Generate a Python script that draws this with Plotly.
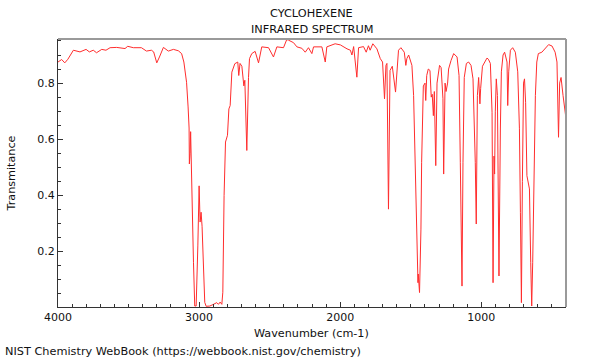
import plotly.graph_objects as go

wavenumber = [4000, 3974, 3952, 3930, 3891, 3844, 3801, 3778, 3750, 3727, 3690, 3660, 3631, 3584,
              3525, 3506, 3466, 3409, 3373, 3338, 3322, 3300, 3281, 3253, 3218, 3182, 3147, 3124,
              3108, 3089, 3078, 3071, 3069, 3064, 3060, 3055, 3048, 3040, 3031, 3021, 3009, 3000,
              2993, 2986, 2979, 2970, 2960, 2950, 2924, 2898, 2875, 2863, 2851, 2839, 2832, 2823,
              2813, 2799, 2789, 2780, 2768, 2747, 2726, 2719, 2710, 2697, 2683, 2676, 2662, 2650,
              2643, 2627, 2603, 2579, 2556, 2508, 2473, 2449, 2402, 2379, 2367, 2331, 2307, 2272,
              2248, 2225, 2201, 2189, 2130, 2106, 2095, 2036, 1999, 1952, 1928, 1917, 1905, 1882,
              1870, 1835, 1816, 1800, 1788, 1769, 1740, 1716, 1700, 1686, 1676, 1669, 1658, 1647,
              1631, 1608, 1599, 1587, 1570, 1546, 1535, 1528, 1515, 1492, 1480, 1470, 1456, 1449,
              1447, 1438, 1428, 1423, 1411, 1399, 1394, 1387, 1376, 1364, 1355, 1348, 1340, 1333,
              1323, 1314, 1296, 1285, 1272, 1267, 1257, 1250, 1239, 1232, 1215, 1196, 1172, 1158,
              1149, 1137, 1130, 1121, 1106, 1090, 1073, 1059, 1043, 1036, 1028, 1019, 1010, 1005,
              992, 977, 960, 950, 936, 924, 917, 910, 906, 901, 894, 886, 875, 865, 858, 846, 835,
              818, 813, 806, 794, 778, 759, 742, 730, 723, 716, 709, 701, 694, 686, 677, 667, 659,
              650, 643, 636, 626, 617, 607, 596, 571, 548, 523, 499, 477, 464, 457, 453, 445, 435,
              421, 409, 400]

transmittance = [0.875, 0.884, 0.872, 0.885, 0.917, 0.911, 0.920, 0.911, 0.917, 0.908, 0.920, 0.917,
                 0.926, 0.927, 0.923, 0.931, 0.926, 0.926, 0.914, 0.917, 0.911, 0.872, 0.893, 0.927,
                 0.914, 0.920, 0.915, 0.905, 0.875, 0.803, 0.715, 0.640, 0.512, 0.550, 0.627, 0.500,
                 0.300, 0.162, 0.006, 0.006, 0.220, 0.434, 0.305, 0.340, 0.290, 0.160, 0.019, 0.005,
                 0.006, 0.012, 0.018, 0.012, 0.020, 0.012, 0.055, 0.400, 0.590, 0.614, 0.708, 0.720,
                 0.839, 0.869, 0.875, 0.827, 0.870, 0.860, 0.790, 0.810, 0.560, 0.820, 0.887, 0.905,
                 0.913, 0.872, 0.929, 0.926, 0.893, 0.929, 0.926, 0.955, 0.953, 0.944, 0.929, 0.924,
                 0.910, 0.926, 0.905, 0.929, 0.929, 0.875, 0.929, 0.940, 0.936, 0.922, 0.917, 0.900,
                 0.930, 0.821, 0.926, 0.930, 0.910, 0.933, 0.917, 0.940, 0.922, 0.887, 0.875, 0.744,
                 0.863, 0.870, 0.351, 0.845, 0.860, 0.768, 0.850, 0.917, 0.926, 0.910, 0.863, 0.887,
                 0.900, 0.863, 0.756, 0.518, 0.256, 0.089, 0.120, 0.054, 0.280, 0.518, 0.790, 0.800,
                 0.738, 0.827, 0.850, 0.845, 0.750, 0.760, 0.684, 0.770, 0.506, 0.800, 0.863, 0.855,
                 0.744, 0.476, 0.800, 0.770, 0.800, 0.850, 0.880, 0.905, 0.893, 0.827, 0.518, 0.077,
                 0.518, 0.820, 0.870, 0.875, 0.863, 0.815, 0.518, 0.298, 0.756, 0.820, 0.726, 0.780,
                 0.860, 0.875, 0.889, 0.885, 0.870, 0.696, 0.089, 0.540, 0.476, 0.700, 0.815, 0.756,
                 0.113, 0.640, 0.840, 0.900, 0.910, 0.875, 0.720, 0.840, 0.917, 0.926, 0.910, 0.840,
                 0.637, 0.340, 0.018, 0.450, 0.800, 0.815, 0.730, 0.470, 0.447, 0.423, 0.160, 0.006,
                 0.160, 0.518, 0.756, 0.875, 0.905, 0.910, 0.925, 0.937, 0.932, 0.910, 0.875, 0.756,
                 0.607, 0.800, 0.820, 0.756, 0.708, 0.673]

title_lines = ["CYCLOHEXENE", "INFRARED SPECTRUM"]
x_title = "Wavenumber (cm-1)"
y_title = "Transmitance"
footer = "NIST Chemistry WebBook (https://webbook.nist.gov/chemistry)"

W, H = 600, 360
ML, MR, MT, MB = 58, 34, 39, 53
PW, PH = W - ML - MR, H - MT - MB

def px(x):
    return (x - ML) / PW

def py(y):
    return (H - MB - y) / PH

FONT = "DejaVu Sans"

fig = go.Figure()
fig.add_trace(go.Scatter(x=wavenumber, y=transmittance, mode="lines",
                         line=dict(color="rgb(255,45,45)", width=1), hoverinfo="skip"))

fig.update_layout(
    width=W, height=H, margin=dict(l=ML, r=MR, t=MT, b=MB),
    paper_bgcolor="white", plot_bgcolor="white", showlegend=False,
    font=dict(family=FONT, size=11, color="#111"),
)
fig.update_xaxes(range=[4000, 400], tickmode="linear", tick0=0, dtick=1000,
                 ticks="inside", ticklen=5, tickcolor="#333", showline=True,
                 linecolor="#333", linewidth=1, showgrid=False, zeroline=False,
                 minor=dict(dtick=100, tick0=0, ticks="inside", ticklen=3, tickcolor="#333"),
                 tickfont=dict(family=FONT, size=11, color="#111"))
fig.update_yaxes(range=[0.0025, 0.957], tickmode="linear", tick0=0, dtick=0.2,
                 ticks="inside", ticklen=5, tickcolor="#333", showline=True,
                 linecolor="#333", linewidth=1, showgrid=False, zeroline=False,
                 minor=dict(dtick=0.05, tick0=0, ticks="inside", ticklen=3, tickcolor="#333"),
                 tickfont=dict(family=FONT, size=11, color="#111"))

# top and right frame lines (gray)
fig.add_shape(type="line", xref="paper", yref="paper", x0=0, x1=1, y0=1, y1=1,
              line=dict(color="#9a9a9a", width=2))
fig.add_shape(type="line", xref="paper", yref="paper", x0=1, x1=1, y0=0, y1=1,
              line=dict(color="#9a9a9a", width=2))

ann = [
    dict(text=title_lines[0], x=px(311.5), y=py(13.3), xanchor="center", yanchor="middle", size=11.3),
    dict(text=title_lines[1], x=px(311.5), y=py(29.5), xanchor="center", yanchor="middle", size=11.3),
    dict(text=x_title, x=px(311.5), y=py(333.5), xanchor="center", yanchor="middle", size=11.2),
    dict(text=footer, x=px(3), y=py(351.5), xanchor="left", yanchor="middle", size=11.3),
]
for a in ann:
    fig.add_annotation(text=a["text"], x=a["x"], y=a["y"], xref="paper", yref="paper",
                       xanchor=a["xanchor"], yanchor=a["yanchor"], showarrow=False,
                       font=dict(family=FONT, size=a["size"], color="#111"))
fig.add_annotation(text=y_title, x=px(11), y=py(173.5), xref="paper", yref="paper",
                   xanchor="center", yanchor="middle", showarrow=False, textangle=-90,
                   font=dict(family=FONT, size=11.2, color="#111"))

fig.write_html("out.html", config={"displayModeBar": False},
               post_script="document.body.style.margin='0';document.body.style.overflow='hidden';")
